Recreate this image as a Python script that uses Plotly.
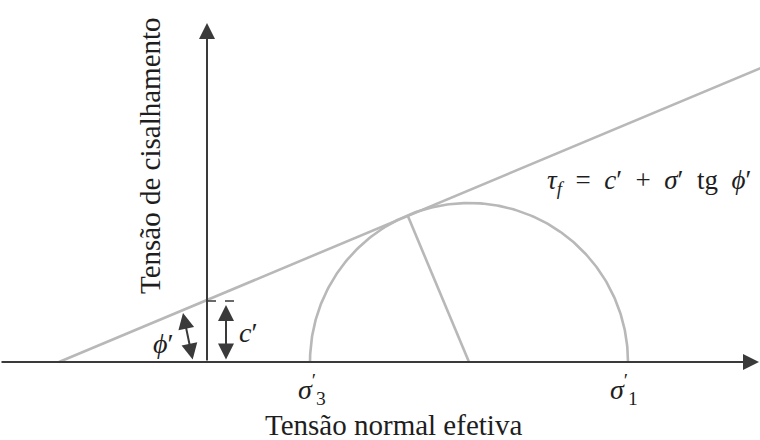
import numpy as np
import plotly.graph_objects as go

# Geometry values (drawing units, origin at the axes crossing)
c_prime = 62.0          # cohesion intercept c'
line_x0 = -148.0        # where the envelope meets the sigma axis
sigma3 = 103.0          # sigma'_3
sigma1 = 421.0          # sigma'_1
x_range = [-207, 553]
y_range = [-78, 362]
axis_len_x = 552
axis_len_y = 339

center = (sigma1 + sigma3) / 2
radius = (sigma1 - sigma3) / 2
tan_phi = c_prime / (-line_x0)
phi = np.arctan(tan_phi)

AX = "#3a3a3a"
GR = "#b8b8b8"
TXT = "#1e1e1e"
FONT = "Liberation Serif"

fig = go.Figure()

# failure envelope
xe = np.array([line_x0, x_range[1] + 5])
fig.add_trace(go.Scatter(x=xe, y=c_prime + tan_phi * xe, mode="lines",
                         line=dict(color=GR, width=2.6), hoverinfo="skip"))
# Mohr circle (upper half)
t = np.linspace(0, np.pi, 240)
fig.add_trace(go.Scatter(x=center + radius * np.cos(t), y=radius * np.sin(t), mode="lines",
                         line=dict(color=GR, width=2.6), hoverinfo="skip"))
# radius to tangency point
tx = center - radius * np.sin(phi)
ty = radius * np.cos(phi)
fig.add_trace(go.Scatter(x=[center, tx], y=[0, ty], mode="lines",
                         line=dict(color=GR, width=2.6), hoverinfo="skip"))
# dashed c' marker
fig.add_trace(go.Scatter(x=[0, 36], y=[c_prime - 1, c_prime - 1], mode="lines",
                         line=dict(color=AX, width=1.3, dash="dash"), hoverinfo="skip"))

ann = []
# axes arrows
ann.append(dict(x=axis_len_x, y=0, ax=x_range[0], ay=0, xref="x", yref="y", axref="x", ayref="y",
                text="", showarrow=True, arrowhead=2, arrowsize=1.6, arrowwidth=2, arrowcolor=AX))
ann.append(dict(x=0, y=axis_len_y, ax=0, ay=0, xref="x", yref="y", axref="x", ayref="y",
                text="", showarrow=True, arrowhead=2, arrowsize=1.6, arrowwidth=2, arrowcolor=AX))
# c' double arrow
ann.append(dict(x=19, y=c_prime - 5, ax=19, ay=1, xref="x", yref="y", axref="x", ayref="y",
                text="", showarrow=True, arrowhead=2, startarrowhead=2, arrowside="end+start",
                arrowsize=1.6, startarrowsize=1.6, arrowwidth=2, arrowcolor=AX))
# phi' double arrow
ann.append(dict(x=-24, y=49, ax=-14, ay=1, xref="x", yref="y", axref="x", ayref="y",
                text="", showarrow=True, arrowhead=2, startarrowhead=2, arrowside="end+start",
                arrowsize=1.6, startarrowsize=1.6, arrowwidth=2, arrowcolor=AX))

def label(x, y, text, size=29, angle=0):
    ann.append(dict(x=x, y=y, xref="x", yref="y", text=text, showarrow=False, textangle=angle,
                    font=dict(family=FONT, size=size, color=TXT)))

label(-57, 206, "Tensão de cisalhamento", angle=-90)
label(186, -63, "Tensão normal efetiva")
label(sigma3 + 2, -27, "<i>σ</i><sup>′</sup><sub>3</sub>", size=28)
label(sigma1 - 4, -27, "<i>σ</i><sup>′</sup><sub>1</sub>", size=28)
label(41, 30, "<i>c</i>′", size=28)
label(-44, 19, "<i>ϕ</i>′", size=28)
label(442, 180, "<i>τ<sub>f</sub></i>  =  <i>c</i>′  +  <i>σ</i>′  tg  <i>ϕ</i>′", size=27)

fig.update_layout(
    width=760, height=440, margin=dict(l=0, r=0, t=0, b=0),
    paper_bgcolor="white", plot_bgcolor="white", showlegend=False,
    font=dict(family=FONT, size=24, color=TXT),
    annotations=ann,
    xaxis=dict(range=x_range, visible=False, fixedrange=True),
    yaxis=dict(range=y_range, visible=False, fixedrange=True),
)
fig.write_html("out.html", config={"displayModeBar": False},
               post_script="document.body.style.margin='0';document.body.style.padding='0';")
